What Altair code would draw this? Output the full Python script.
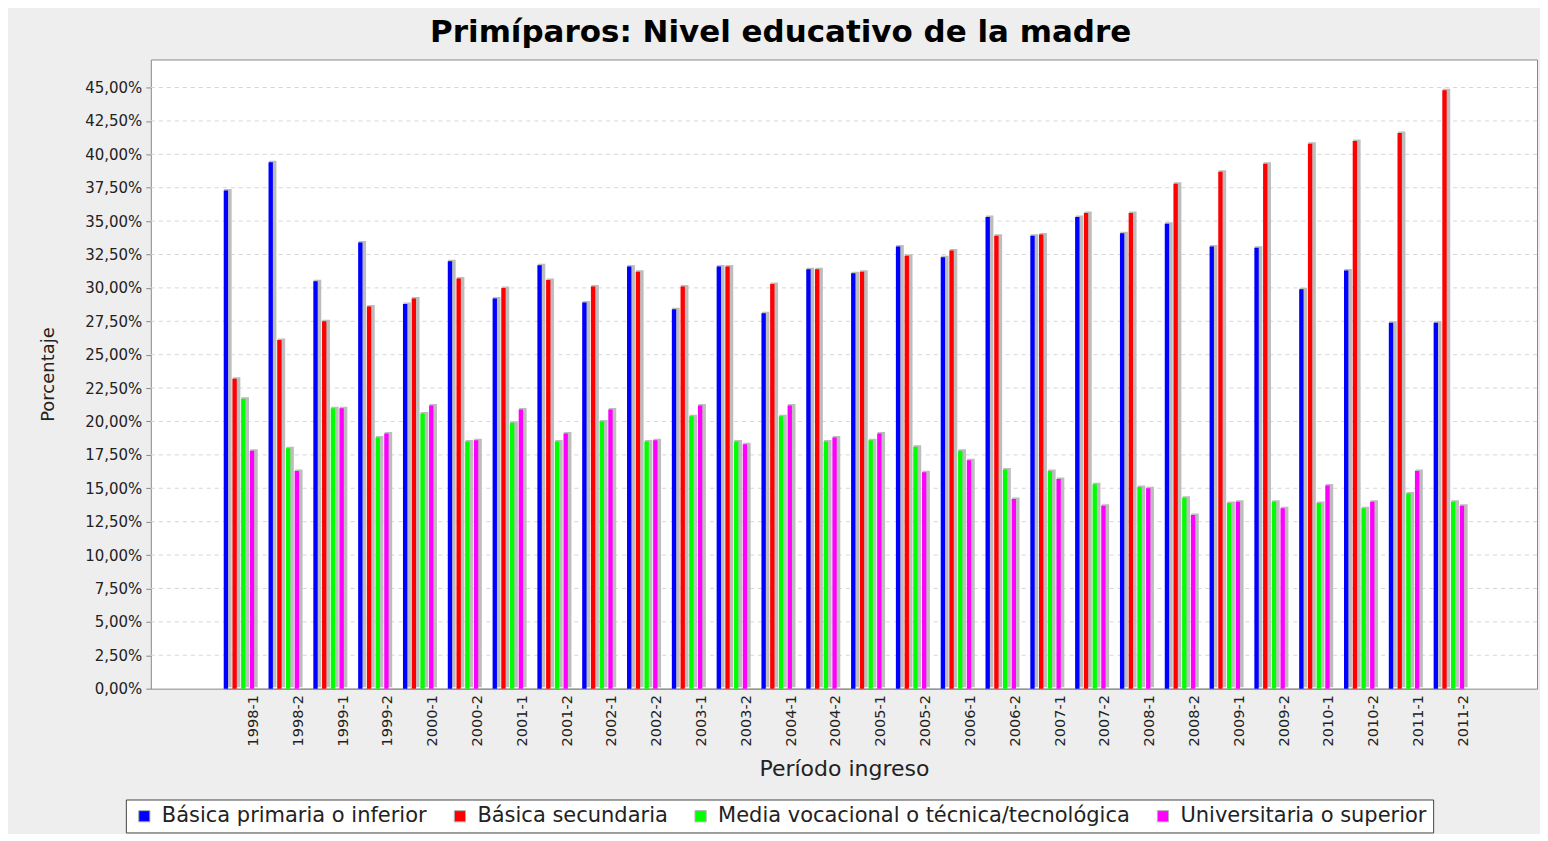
import altair as alt
import pandas as pd

periods = ["1998-1", "1998-2", "1999-1", "1999-2", "2000-1", "2000-2", "2001-1", "2001-2",
           "2002-1", "2002-2", "2003-1", "2003-2", "2004-1", "2004-2", "2005-1", "2005-2",
           "2006-1", "2006-2", "2007-1", "2007-2", "2008-1", "2008-2", "2009-1", "2009-2",
           "2010-1", "2010-2", "2011-1", "2011-2"]

series = ["Básica primaria o inferior", "Básica secundaria",
          "Media vocacional o técnica/tecnológica", "Universitaria o superior"]
colors = ["#0000ff", "#ff0000", "#00ff00", "#ff00ff"]

primaria = [37.3, 39.4, 30.5, 33.4, 28.8, 32.0, 29.2, 31.7, 28.9, 31.6, 28.4, 31.6, 28.1, 31.4,
            31.1, 33.1, 32.3, 35.3, 33.9, 35.3, 34.1, 34.8, 33.1, 33.0, 29.9, 31.3, 27.4, 27.4]
secundaria = [23.2, 26.1, 27.5, 28.6, 29.2, 30.7, 30.0, 30.6, 30.1, 31.2, 30.1, 31.6, 30.3, 31.4,
              31.2, 32.4, 32.8, 33.9, 34.0, 35.6, 35.6, 37.8, 38.7, 39.3, 40.8, 41.0, 41.6, 44.8]
media = [21.7, 18.0, 21.0, 18.8, 20.6, 18.5, 19.9, 18.5, 20.0, 18.5, 20.4, 18.5, 20.4, 18.5,
         18.6, 18.1, 17.8, 16.4, 16.3, 15.3, 15.1, 14.3, 13.9, 14.0, 13.9, 13.5, 14.6, 14.0]
universitaria = [17.8, 16.3, 21.0, 19.1, 21.2, 18.6, 20.9, 19.1, 20.9, 18.6, 21.2, 18.3, 21.2, 18.8,
                 19.1, 16.2, 17.1, 14.2, 15.7, 13.7, 15.0, 13.0, 14.0, 13.5, 15.2, 14.0, 16.3, 13.7]

y_ticks = [0, 2.5, 5, 7.5, 10, 12.5, 15, 17.5, 20, 22.5, 25, 27.5, 30, 32.5, 35, 37.5, 40, 42.5, 45]

rows = []
for i, p in enumerate(periods):
    for s, vals in zip(series, [primaria, secundaria, media, universitaria]):
        rows.append({"periodo": p, "nivel": s, "valor": vals[i]})
df = pd.DataFrame(rows)
grid_df = pd.DataFrame({"valor": y_ticks[1:]})

FONT = "DejaVu Sans"

x_enc = alt.X(
    "periodo:N", sort=periods,
    scale=alt.Scale(paddingInner=0.32, paddingOuter=0, range=[73, 1315]),
    axis=alt.Axis(title="Período ingreso", labelAngle=-90, labelFont=FONT, labelFontSize=14.5,
                  labelColor="#222", labelPadding=6, labelOffset=15, ticks=False,
                  domainColor="#888", titleFont=FONT, titleFontSize=22, titleFontWeight="normal",
                  titleColor="#222", titlePadding=13, grid=False),
)
y_enc = alt.Y(
    "valor:Q",
    scale=alt.Scale(domain=[0, 47.1], nice=False, zero=True),
    axis=alt.Axis(title="Porcentaje", values=y_ticks, labelOverlap=False,
                  labelExpr="replace(format(datum.value, '.2f'), '.', ',') + '%'",
                  labelFont=FONT, labelFontSize=15, labelColor="#222", labelPadding=4,
                  tickColor="#888", tickSize=5, domain=False, grid=False,
                  titleFont=FONT, titleFontSize=18, titleFontWeight="normal", titleColor="#222",
                  titlePadding=27),
)

grid = alt.Chart(grid_df).mark_rule(color="#d6d6d6", strokeDash=[4, 4], strokeWidth=1).encode(
    y=y_enc,
    x=alt.value(0),
    x2=alt.value("width"),
)

shadow = alt.Chart(df).mark_bar(color="#bdbdbd", width=7.5, yOffset=-1.5).encode(
    x=x_enc,
    xOffset=alt.XOffset("nivel:N", sort=series,
                        scale=alt.Scale(paddingInner=0.5, paddingOuter=0, range=[2, 32.5])),
    y=y_enc,
)
bars = alt.Chart(df).mark_bar().encode(
    x=x_enc,
    xOffset=alt.XOffset("nivel:N", sort=series,
                        scale=alt.Scale(paddingInner=0.5, paddingOuter=0, range=[0, 30.5])),
    y=y_enc,
    color=alt.Color("nivel:N", sort=series,
                    scale=alt.Scale(domain=series, range=colors),
                    legend=alt.Legend(title=None, orient="none", legendX=-25, legendY=741,
                                      direction="horizontal", columns=4,
                                      fillColor="white", strokeColor="#444", padding=6,
                                      symbolType="square", symbolSize=125,
                                      symbolStrokeColor="#b0b0b0", symbolStrokeWidth=1,
                                      labelFont=FONT, labelFontSize=21, labelColor="#222",
                                      labelLimit=0, columnPadding=20, labelOffset=7,
                                      symbolOffset=2)),
)

chart = alt.layer(grid, shadow, bars).resolve_scale(xOffset="independent").properties(
    width=1388, height=630,
    title=alt.TitleParams("Primíparos: Nivel educativo de la madre", font=FONT, fontSize=31,
                          fontWeight="bold", color="black", anchor="middle", frame="bounds",
                          offset=10, dx=-8),
    background="#eeeeee",
    padding={"left": 31, "top": 9, "right": 2, "bottom": 0},
).configure_view(fill="white", stroke="#888", strokeWidth=1)

chart.save("out.html", embed_options={"renderer": "svg", "actions": False})
